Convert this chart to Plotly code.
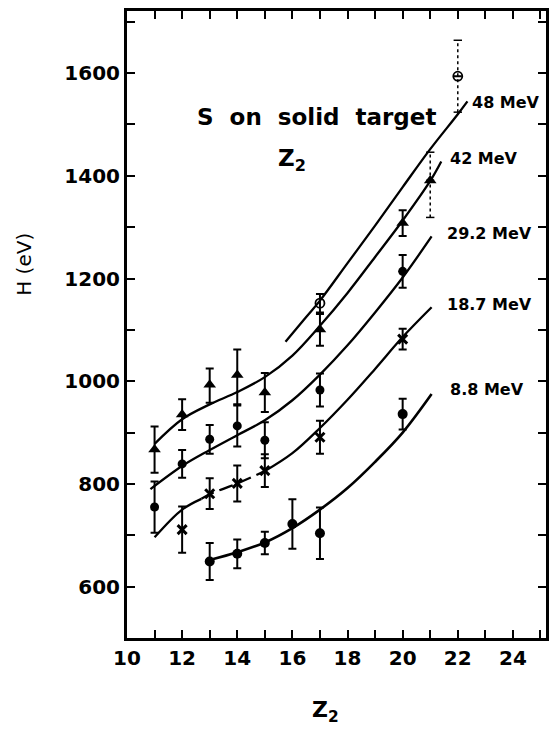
import plotly.graph_objects as go

# ---- measured points (Z2, H in eV, error half-widths) ----
z_48 = [17, 22]
h_48 = [1152, 1594]
e_48 = [18, 70]
dashed_48 = [False, True]

z_42 = [11, 12, 13, 14, 15, 17, 20, 21]
h_42 = [867, 935, 993, 1012, 978, 1101, 1308, 1391]
ep_42 = [45, 30, 32, 50, 38, 30, 25, 55]
em_42 = [45, 30, 35, 57, 38, 32, 25, 72]
dashed_42 = [False, False, False, False, False, False, False, True]

z_29 = [11, 12, 13, 14, 15, 17, 20]
h_29 = [755, 839, 887, 913, 885, 983, 1214]
e_29 = [50, 27, 28, 40, 35, 32, 32]

z_18 = [12, 13, 14, 15, 17, 20]
h_18 = [711, 781, 801, 826, 891, 1082]
e_18 = [45, 30, 35, 32, 32, 20]

z_8 = [13, 14, 15, 16, 17, 20]
h_8 = [649, 664, 685, 722, 704, 936]
e_8 = [36, 28, 22, 48, 50, 30]

# ---- hand-drawn trend curves ----
cz_48 = [15.75, 16.5, 17, 18, 19, 20, 21, 22, 22.35]
ch_48 = [1077, 1125, 1157, 1230, 1303, 1378, 1452, 1520, 1545]

cz_42 = [11, 12, 13, 14, 15, 16, 17, 18, 19, 20, 21, 21.4]
ch_42 = [878, 926, 955, 979, 1008, 1050, 1108, 1172, 1242, 1313, 1390, 1428]

cz_29 = [10.85, 12, 13, 14, 15, 16, 17, 18, 19, 20, 21.05]
ch_29 = [790, 835, 866, 895, 924, 963, 1013, 1070, 1134, 1202, 1282]

cz_18 = [11, 12, 12.7, 13, 14, 15, 16, 17, 18, 19, 20, 21.05]
ch_18 = [696, 750, 771, 780, 801, 825, 860, 909, 964, 1024, 1086, 1144]
dash_18 = (2, 5)  # index span drawn dashed

cz_8 = [13, 14, 15, 16, 17, 18, 19, 20, 21.05]
ch_8 = [652, 667, 686, 714, 750, 792, 843, 900, 975]

energy_labels = ["48 MeV", "42 MeV", "29.2 MeV", "18.7 MeV", "8.8 MeV"]
label_z = [22.44, 21.64, 21.53, 21.53, 21.64]
label_h = [1543, 1433, 1287, 1150, 983]

x_ticks = [10, 12, 14, 16, 18, 20, 22, 24]
y_ticks = [600, 800, 1000, 1200, 1400, 1600]

FONT = "DejaVu Sans"
INK = "black"

fig = go.Figure()


def curve(z, h, dash="solid", width=2.3):
    fig.add_trace(go.Scatter(
        x=z, y=h, mode="lines",
        line=dict(color=INK, width=width, shape="spline", smoothing=1.0, dash=dash),
        showlegend=False, hoverinfo="skip"))


def points(z, h, ep, em, symbol, size, lw=0, dashed=None):
    dashed = dashed or [False] * len(z)
    sp = [0 if d else e for e, d in zip(ep, dashed)]
    sm = [0 if d else e for e, d in zip(em, dashed)]
    fig.add_trace(go.Scatter(
        x=z, y=h, mode="markers",
        marker=dict(symbol=symbol, size=size, color=INK,
                    line=dict(color=INK, width=lw)),
        error_y=dict(type="data", symmetric=False, array=sp, arrayminus=sm,
                     color=INK, thickness=2, width=4),
        showlegend=False, hoverinfo="skip"))
    # dotted error bars for the less certain points
    for zi, hi, a, b, d in zip(z, h, ep, em, dashed):
        if not d:
            continue
        fig.add_trace(go.Scatter(
            x=[zi, zi], y=[hi - b, hi + a], mode="lines+markers",
            line=dict(color=INK, width=1.5, dash="dot"),
            marker=dict(symbol="line-ew", size=6, line=dict(color=INK, width=1.5)),
            showlegend=False, hoverinfo="skip"))


curve(cz_48, ch_48)
curve(cz_42, ch_42)
curve(cz_29, ch_29)
a, b = dash_18
curve(cz_18[:a + 1], ch_18[:a + 1])
curve(cz_18[a:b + 1], ch_18[a:b + 1], dash="14px,6px")
curve(cz_18[b:], ch_18[b:])
curve(cz_8, ch_8, width=2.6)

points(z_48, h_48, e_48, e_48, "circle-open", 9, lw=1.8, dashed=dashed_48)
points(z_42, h_42, ep_42, em_42, "triangle-up", 11, dashed=dashed_42)
points(z_29, h_29, e_29, e_29, "circle", 9)
points(z_18, h_18, e_18, e_18, "x-thin", 9, lw=3)
points(z_8, h_8, e_8, e_8, "circle", 10)

for t, zx, hy in zip(energy_labels, label_z, label_h):
    fig.add_annotation(x=zx, y=hy, text=t, showarrow=False, xanchor="left",
                       yanchor="middle", font=dict(family=FONT, size=16, color=INK,
                                                   weight="bold"))

# in-plot caption
fig.add_annotation(xref="paper", yref="paper", x=(316 - 127) / 419, y=1 - (115 - 8) / 630,
                   text="S  on  solid  target", showarrow=False, xanchor="center",
                   yanchor="middle", font=dict(family=FONT, size=23, color=INK, weight="bold"))
fig.add_annotation(xref="paper", yref="paper", x=(292 - 127) / 419, y=1 - (158 - 8) / 630,
                   text="Z<sub>2</sub>", showarrow=False, xanchor="center",
                   yanchor="middle", font=dict(family=FONT, size=23, color=INK, weight="bold"))

# axis titles
fig.add_annotation(xref="paper", yref="paper", x=(24 - 127) / 419, y=1 - (263 - 8) / 630,
                   text="H (eV)", textangle=-90, showarrow=False, xanchor="center",
                   yanchor="middle", font=dict(family=FONT, size=20, color=INK))
fig.add_annotation(xref="paper", yref="paper", x=(325 - 127) / 419, y=1 - (712 - 8) / 630,
                   text="Z<sub>2</sub>", showarrow=False, xanchor="center",
                   yanchor="middle", font=dict(family=FONT, size=22, color=INK, weight="bold"))

axis_common = dict(showgrid=False, zeroline=False, showline=True, linecolor=INK,
                   linewidth=3, mirror="allticks", ticks="inside", ticklen=8,
                   tickwidth=1.5, tickcolor=INK,
                   tickfont=dict(family=FONT, size=20, color=INK, weight="bold"))

fig.update_xaxes(range=[10, 25.2], tickvals=x_ticks,
                 minor=dict(dtick=1, ticks="inside", ticklen=8, tickwidth=1.5,
                            tickcolor=INK, showgrid=False),
                 **axis_common)
fig.update_yaxes(range=[500, 1721], tickvals=y_ticks,
                 minor=dict(dtick=100, ticks="inside", ticklen=8, tickwidth=1.5,
                            tickcolor=INK, showgrid=False),
                 **axis_common)

fig.update_layout(width=557, height=730, margin=dict(l=127, r=11, t=8, b=92),
                  paper_bgcolor="white", plot_bgcolor="white", showlegend=False)

fig.write_html("out.html")
